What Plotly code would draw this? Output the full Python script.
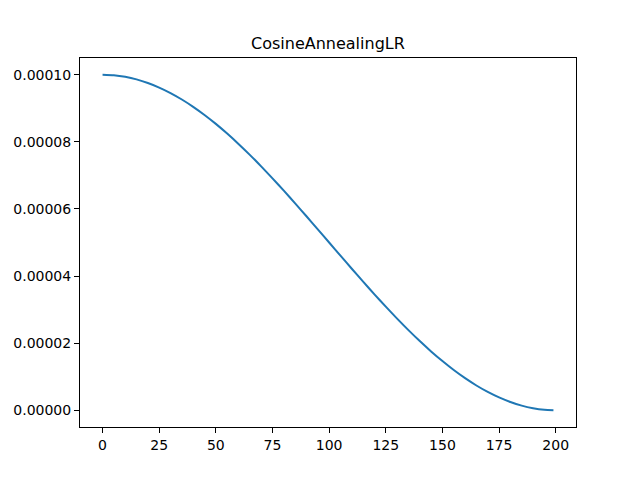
import plotly.graph_objects as go

epochs = [0, 5, 10, 15, 20, 25, 30, 35, 40, 45, 50, 55, 60, 65, 70, 75, 80, 85, 90, 95,
          100, 105, 110, 115, 120, 125, 130, 135, 140, 145, 150, 155, 160, 165, 170, 175,
          180, 185, 190, 195, 199]
lr = [1.0000e-4, 0.9985e-4, 0.9938e-4, 0.9862e-4, 0.9755e-4, 0.9619e-4, 0.9455e-4,
      0.9263e-4, 0.9045e-4, 0.8802e-4, 0.8536e-4, 0.8247e-4, 0.7939e-4, 0.7613e-4,
      0.7270e-4, 0.6913e-4, 0.6545e-4, 0.6167e-4, 0.5782e-4, 0.5392e-4, 0.5000e-4,
      0.4608e-4, 0.4218e-4, 0.3833e-4, 0.3455e-4, 0.3087e-4, 0.2730e-4, 0.2388e-4,
      0.2061e-4, 0.1753e-4, 0.1465e-4, 0.1198e-4, 0.0955e-4, 0.0737e-4, 0.0545e-4,
      0.0381e-4, 0.0245e-4, 0.0138e-4, 0.0062e-4, 0.0015e-4, 0.0001e-4]
x_ticks = [0, 25, 50, 75, 100, 125, 150, 175, 200]
y_ticks = [0.0, 0.00002, 0.00004, 0.00006, 0.00008, 0.00010]
title_text = "CosineAnnealingLR"

fig = go.Figure()
fig.add_trace(go.Scatter(x=epochs, y=lr, mode="lines",
                         line=dict(color="#1f77b4", width=2, shape="spline", smoothing=0.6),
                         showlegend=False, hoverinfo="skip"))

axis_common = dict(showgrid=False, zeroline=False, showline=True, linecolor="black",
                   linewidth=1, mirror=True, ticks="outside", ticklen=5, tickwidth=1,
                   tickcolor="black", tickfont=dict(family="DejaVu Sans", size=14, color="black"))

xmin, xmax = min(epochs), max(epochs)
ymin, ymax = min(lr), max(lr)
fig.update_xaxes(range=[xmin - 0.05 * (xmax - xmin), xmax + 0.05 * (xmax - xmin)],
                 tickvals=x_ticks, ticktext=[str(v) for v in x_ticks], **axis_common)
fig.update_yaxes(range=[ymin - 0.05 * (ymax - ymin) - 0.0001e-4, ymax + 0.05 * (ymax - ymin)],
                 tickvals=y_ticks, ticktext=[f"{v:.5f}" for v in y_ticks], **axis_common)

fig.add_annotation(text=title_text, xref="paper", yref="paper", x=0.5, y=1,
                   xanchor="center", yanchor="bottom", yshift=3, showarrow=False,
                   font=dict(family="DejaVu Sans", size=16, color="black"))

# page body adds an 8px offset, compensate in the margins
fig.update_layout(width=640, height=480, paper_bgcolor="white", plot_bgcolor="white",
                  margin=dict(l=72, r=72, t=50, b=61, autoexpand=False))

fig.write_html("out.html")
